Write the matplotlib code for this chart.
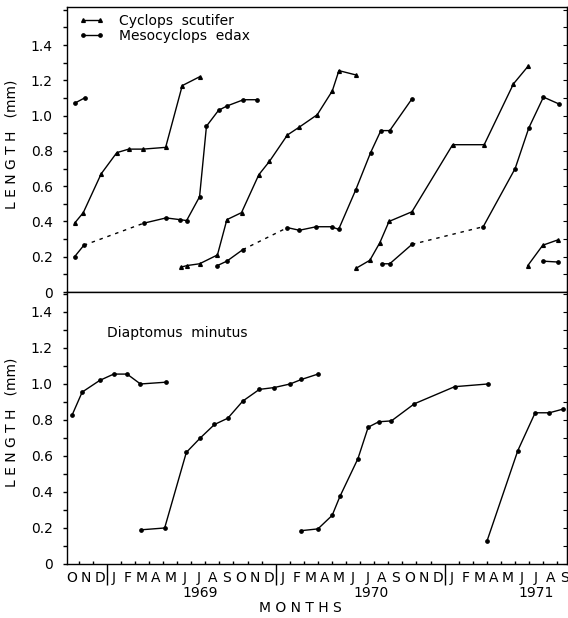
import numpy as np
import matplotlib
matplotlib.use("Agg")
import matplotlib.pyplot as plt
from matplotlib.lines import Line2D

# x is months counted from 1 Oct 1968 (so 1 Jan 1969 = 3)

# --- upper panel: Cyclops scutifer (triangles) ---
cs1_x = [0.71, 1.33, 2.60, 3.71, 4.56, 5.58, 7.18, 8.36, 9.59]
cs1_y = [0.39, 0.45, 0.67, 0.79, 0.81, 0.81, 0.82, 1.17, 1.22]
cs2_x = [8.24, 8.70, 9.59, 10.86, 11.53, 12.57, 13.80, 14.55, 15.83, 16.68,
         17.95, 19.02, 19.49, 20.72]
cs2_y = [0.14, 0.15, 0.16, 0.21, 0.41, 0.45, 0.665, 0.74, 0.89, 0.935,
         1.005, 1.14, 1.255, 1.23]
cs3_x = [20.72, 21.69, 22.40, 23.05, 24.68, 27.57, 29.81, 31.89, 32.93]
cs3_y = [0.135, 0.18, 0.28, 0.40, 0.455, 0.835, 0.835, 1.18, 1.28]
cs4_x = [32.91, 33.97, 35.03]
cs4_y = [0.15, 0.265, 0.295]

# --- upper panel: Mesocyclops edax (dots), dashed gap over winter ---
me1_x = [0.71, 1.42]
me1_y = [1.07, 1.10]
me2_x = [0.71, 1.37, 5.62, 7.21, 8.22, 8.67, 9.59, 10.08, 10.94, 11.55,
         12.71, 13.70]
me2_y = [0.20, 0.265, 0.39, 0.42, 0.41, 0.405, 0.54, 0.94, 1.03, 1.055,
         1.09, 1.09]
me3_x = [10.86, 11.53, 12.66, 15.83, 16.68, 17.88, 18.97, 19.47, 20.69,
         21.74, 22.47, 23.10, 24.68]
me3_y = [0.15, 0.175, 0.24, 0.365, 0.35, 0.37, 0.37, 0.355, 0.58, 0.79,
         0.915, 0.915, 1.095]
me4_x = [22.52, 23.10, 24.68, 29.74, 32.01, 32.98, 34.02, 35.15]
me4_y = [0.16, 0.16, 0.27, 0.37, 0.70, 0.93, 1.105, 1.065]
me5_x = [33.97, 35.03]
me5_y = [0.175, 0.17]

# --- lower panel: Diaptomus minutus ---
dm1_x = [0.55, 1.25, 2.50, 3.49, 4.44, 5.39, 7.21]
dm1_y = [0.83, 0.955, 1.02, 1.055, 1.055, 1.0, 1.01]
dm2_x = [5.46, 7.11, 8.65, 9.64, 10.65, 11.60, 12.66, 13.84, 14.88, 16.02,
         16.82, 18.00]
dm2_y = [0.19, 0.20, 0.62, 0.70, 0.775, 0.81, 0.905, 0.97, 0.98, 1.0,
         1.025, 1.055]
dm3_x = [16.80, 18.00, 19.01, 19.56, 20.84, 21.57, 22.32, 23.22, 24.85,
         27.71, 30.07]
dm3_y = [0.185, 0.195, 0.27, 0.375, 0.585, 0.76, 0.79, 0.795, 0.89, 0.985,
         1.0]
dm4_x = [30.00, 32.20, 33.43, 34.44, 35.39]
dm4_y = [0.125, 0.63, 0.84, 0.84, 0.86]

month_labels = list("OND") + list("JFMAMJJASOND") * 2 + list("JFMAMJJAS")
years = ["1969", "1970", "1971"]
year_pos = [9.6, 21.8, 33.5]

LW = 1.0
tri = dict(color="black", lw=LW, marker="^", ms=2.7)
dot = dict(color="black", lw=LW, marker="o", ms=2.4)


def dashed_series(ax, x, y, gap):
    # solid up to gap, dashed across the gap, solid after
    ax.plot(x[:gap + 1], y[:gap + 1], **dot)
    ax.plot(x[gap:gap + 2], y[gap:gap + 2], color="black", lw=LW,
            dashes=(2.5, 3.5))
    ax.plot(x[gap + 1:], y[gap + 1:], **dot)


def style_axis(ax, top):
    ax.set_xlim(0.15, 35.7)
    ax.set_yticks(np.arange(0, 1.41, 0.2))
    ax.set_yticklabels(["0", "0.2", "0.4", "0.6", "0.8", "1.0", "1.2", "1.4"])
    ax.set_yticks(np.arange(0, top, 0.1), minor=True)
    ax.tick_params(axis="y", which="both", direction="out", length=3,
                   width=1, labelsize=10, pad=7)
    ax.set_ylabel("L E N G T H   (mm)", fontsize=10)
    ax.yaxis.set_label_coords(-0.097, 0.52)
    sec = ax.secondary_yaxis("right")
    sec.set_yticks(np.arange(0, top, 0.1))
    sec.tick_params(direction="in", length=3, labelright=False)
    ax.set_xticks([3, 15, 27])
    ax.set_xticks([m for m in range(1, 36) if m not in (3, 15, 27)],
                  minor=True)
    ax.set_xticklabels([])
    for s in ax.spines.values():
        s.set_linewidth(1.0)


fig = plt.figure(figsize=(5.68, 6.18), dpi=100)
ax1 = fig.add_axes([0.1174, 0.5275, 0.881, 0.4607])
ax2 = fig.add_axes([0.1174, 0.0874, 0.881, 0.4401])

# upper panel
ax1.plot(cs1_x, cs1_y, **tri)
ax1.plot(cs2_x, cs2_y, **tri)
ax1.plot(cs3_x, cs3_y, **tri)
ax1.plot(cs4_x, cs4_y, **tri)
ax1.plot(me1_x, me1_y, **dot)
dashed_series(ax1, me2_x, me2_y, 1)
dashed_series(ax1, me3_x, me3_y, 2)
dashed_series(ax1, me4_x, me4_y, 2)
ax1.plot(me5_x, me5_y, **dot)
ax1.set_ylim(0, 1.614)
style_axis(ax1, 1.61)
ax1.tick_params(axis="x", which="major", direction="out", length=5, width=1)
ax1.tick_params(axis="x", which="minor", direction="out", length=2.2,
                width=1)

handles = [Line2D([], [], **tri), Line2D([], [], **dot)]
ax1.legend(handles, ["Cyclops  scutifer", "Mesocyclops  edax"],
           loc="upper left", bbox_to_anchor=(0.025, 0.978), frameon=False,
           numpoints=2, handlelength=1.8, handletextpad=1.1,
           labelspacing=0.12, borderpad=0, borderaxespad=0, fontsize=10)

# lower panel
for x, y in [(dm1_x, dm1_y), (dm2_x, dm2_y), (dm3_x, dm3_y), (dm4_x, dm4_y)]:
    ax2.plot(x, y, **dot)
ax2.set_ylim(0, 1.511)
style_axis(ax2, 1.51)
ax2.tick_params(axis="x", which="major", direction="out", length=15,
                width=1)
ax2.tick_params(axis="x", which="minor", direction="in", length=2.2,
                width=1)
ax2.text(0.081, 0.849, "Diaptomus  minutus", transform=ax2.transAxes,
         fontsize=10, va="center")

trans = ax2.get_xaxis_transform()
for i, lab in enumerate(month_labels):
    ax2.text(i + 0.5, -0.052, lab, transform=trans, ha="center",
             va="center", fontsize=10)
for pos, yr in zip(year_pos, years):
    ax2.text(pos, -0.107, yr, transform=trans, ha="center", va="center",
             fontsize=10)
fig.text(0.528, 0.016, "M O N T H S", ha="center", va="center", fontsize=10)

fig.savefig("out.png", dpi=100)
